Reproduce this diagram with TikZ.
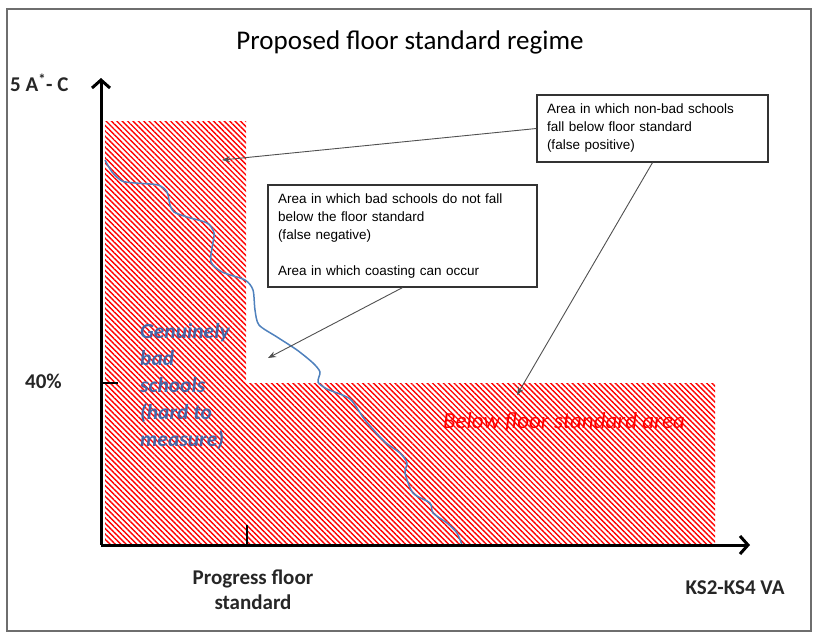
\documentclass[tikz,border=0pt]{standalone}
\usepackage{fontspec}
\setmainfont{Carlito}
\newfontfamily\boxfont{Liberation Sans}
\usetikzlibrary{arrows.meta,patterns.meta}
\definecolor{curveblue}{RGB}{79,129,189}
\definecolor{labelblue}{RGB}{70,100,165}
\definecolor{framegray}{RGB}{110,110,110}
\definecolor{arrowgray}{RGB}{80,80,80}
\begin{document}
\begin{tikzpicture}[x=1pt,y=-1pt,
  hatch/.style={pattern={Lines[angle=-45,distance=3.8pt,line width=1.4pt]},pattern color=red},
  axisline/.style={line width=3pt,-{Straight Barb[length=8pt,width=18pt]}},
  callout/.style={draw=black!80,line width=1.2pt,fill=white,inner xsep=10pt,inner ysep=0pt,align=left,font=\boxfont\fontsize{13.5}{18}\selectfont},
  pointer/.style={draw=arrowgray,line width=0.9pt,-{Stealth[length=8pt,width=6pt]}},
  axlabel/.style={font=\bfseries\fontsize{21}{25}\selectfont,text=black!85,inner sep=0pt},
  ticks/.style={line width=2pt}
]
\useasboundingbox (0,0) rectangle (815,633);
\draw[framegray,line width=1.5pt] (7,9) rectangle (811,631);

% hatched region
\fill[hatch] (105,121) -- (246,121) -- (246,383) -- (715,383) -- (715,545) -- (105,545) -- cycle;

% curve
\draw[curveblue,line width=1.5pt] plot[smooth,tension=0.45] coordinates {
(105,160) (112,172) (122,181) (135,183) (158,185) (167,192) (170,205) (174,212)
(187,217) (207,223) (214,233) (212,248) (211,262) (222,272) (245,280) (253,290)
(255,310) (259,325) (277,337) (297,350) (313,363) (320,372) (318,382) (327,389)
(350,399) (365,420) (385,442) (400,453) (407,463) (405,473) (413,493) (430,503)
(433,513) (447,523) (457,533) (462,545)};

% axes
\coordinate (origin) at (101,545);
\coordinate (ytop) at (101,78);
\coordinate (xend) at (750,545);
\draw[axisline] (origin) -- (ytop);
\draw[axisline] (origin) -- (xend);
\coordinate (tickx0) at (247,545);
\coordinate (tickx1) at (247,525);
\draw[ticks] (tickx0) -- (tickx1);
\coordinate (ticky0) at (101,383);
\coordinate (ticky1) at (118,383);
\draw[ticks] (ticky0) -- (ticky1);

% labels
\node[font=\fontsize{27}{32}\selectfont] (title) at (410,42) {Proposed floor standard regime};
\node[axlabel,anchor=west] (ylab) at (10,83) {5 A\textsuperscript{*}- C};
\node[axlabel,anchor=west] (pct) at (25,381) {40\%};
\node[axlabel,align=center] (pfs) at (253,590) {Progress floor\\standard};
\node[axlabel] (xlab) at (735,588) {KS2-KS4 VA};
\node[font=\bfseries\itshape\fontsize{21.5}{27}\selectfont,text=labelblue,align=left,anchor=north west,inner sep=0pt] (gbs) at (140,323)
  {Genuinely\\bad\\schools\\(hard to\\measure)};
\node[font=\itshape\fontsize{23}{27}\selectfont,text=red] (bfs) at (564,422) {Below floor standard area};

% callouts
\node[callout,text width=211pt,minimum width=231pt,minimum height=67pt] (b1) at (652.5,128.5)
  {Area in which non-bad schools\\fall below floor standard\\(false positive)};
\node[callout,text width=249pt,minimum width=269pt,minimum height=102pt] (b2) at (402.5,236)
  {Area in which bad schools do not fall\\below the floor standard\\(false negative)\\[18pt]Area in which coasting can occur};

\coordinate (t1) at (222,160);
\coordinate (t2) at (517,395);
\coordinate (t3) at (268,358);
\draw[pointer] (b1.west) -- (t1);
\draw[pointer] (b1.south) -- (t2);
\draw[pointer] (b2.south) -- (t3);
\end{tikzpicture}
\end{document}
